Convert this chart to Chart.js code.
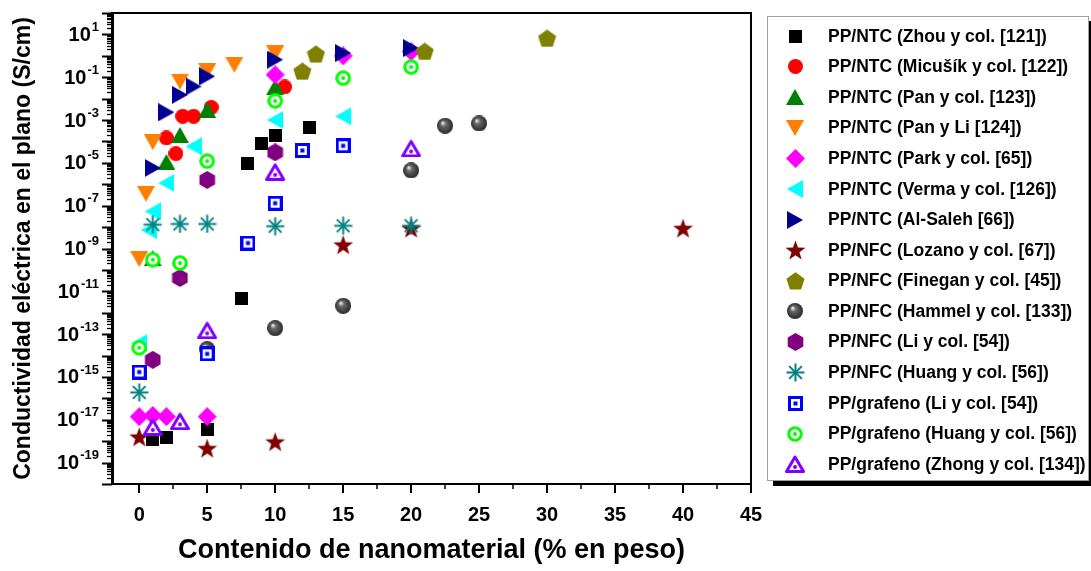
<!DOCTYPE html>
<html>
<head>
<meta charset="utf-8">
<script src="https://cdn.jsdelivr.net/npm/chart.js@4.4.1/dist/chart.umd.min.js"></script>
<style>
    body { margin: 0; background: #fff; }
    #wrap { position: relative; width: 1091px; height: 571px; }
    #leyenda {
        position: absolute; left: 767px; top: 16px; width: 322px; height: 465px;
        box-sizing: border-box; border: 1px solid #a0a0a0; background: #fff;
        box-shadow: 6px 5px 0 #000; padding-top: 4px;
    }
    .item { height: 30.57px; display: flex; align-items: center;
        font: bold 17.5px "Liberation Sans", Arial, sans-serif; color: #000; white-space: nowrap; }
    .item .mk { width: 54px; display: flex; justify-content: center; align-items: center; }
    .item span { margin-left: 6px; }
</style>
</head>
<body>
<div id="wrap">
    <canvas id="grafico" width="1091" height="571"></canvas>
    <div id="leyenda"></div>
</div>
<script>
const etiquetas = [
    'PP/NTC (Zhou y col. [121])',
    'PP/NTC (Micušík y col. [122])',
    'PP/NTC (Pan y col. [123])',
    'PP/NTC (Pan y Li [124])',
    'PP/NTC (Park y col. [65])',
    'PP/NTC (Verma y col. [126])',
    'PP/NTC (Al-Saleh [66])',
    'PP/NFC (Lozano y col. [67])',
    'PP/NFC (Finegan y col. [45])',
    'PP/NFC (Hammel y col. [133])',
    'PP/NFC (Li y col. [54])',
    'PP/NFC (Huang y col. [56])',
    'PP/grafeno (Li y col. [54])',
    'PP/grafeno (Huang y col. [56])',
    'PP/grafeno (Zhong y col. [134])'
];

const zhouX = [1, 2, 5, 7.5, 8, 9, 10, 12.5];
const zhouY = [1.15e-18, 1.55e-18, 3.5e-18, 4.5e-12, 9.8e-6, 7.8e-5, 1.9e-4, 4.3e-4];
const micusikX = [2, 2.7, 3.2, 4, 5.3, 10.7];
const micusikY = [1.45e-4, 2.7e-5, 1.5e-3, 1.5e-3, 3.9e-3, 3.5e-2];
const panX = [1, 2, 3, 5, 10];
const panY = [3.5e-10, 1.1e-5, 2.0e-4, 3.0e-3, 3.5e-2];
const panLiX = [0, 0.5, 1, 3, 5, 7, 10];
const panLiY = [3.2e-10, 3.6e-7, 9.3e-5, 6.3e-2, 0.19, 0.38, 1.3];
const parkX = [0, 1, 2, 5, 10, 15, 20];
const parkY = [1.4e-17, 1.6e-17, 1.4e-17, 1.4e-17, 0.13, 1.0, 1.6];
const vermaX = [0, 0.7, 1, 2, 4, 10, 15];
const vermaY = [3.8e-14, 7.4e-9, 5.4e-8, 1.15e-6, 5.9e-5, 1.0e-3, 1.5e-3];
const alSalehX = [1, 2, 3, 4, 5, 10, 15, 20];
const alSalehY = [5.8e-6, 2.3e-3, 1.5e-2, 3.7e-2, 0.11, 0.66, 1.35, 2.3];
const lozanoX = [0, 5, 10, 15, 20, 40];
const lozanoY = [1.6e-18, 4.7e-19, 9.5e-19, 1.5e-9, 8.9e-9, 8.9e-9];
const fineganX = [12, 13, 21, 30];
const fineganY = [0.19, 1.2, 1.6, 6.6];
const hammelX = [5, 10, 15, 20, 22.5, 25];
const hammelY = [2.0e-14, 1.9e-13, 2.1e-12, 4.4e-6, 5.4e-4, 6.9e-4];
const liNfcX = [1, 3, 5, 10];
const liNfcY = [6.3e-15, 4.2e-11, 1.6e-6, 3.1e-5];
const huangNfcX = [0, 1, 3, 5, 10, 15, 20];
const huangNfcY = [1.9e-16, 1.3e-8, 1.4e-8, 1.4e-8, 1.1e-8, 1.15e-8, 1.15e-8];
const liGrafX = [0, 5, 8, 10, 12, 15];
const liGrafY = [1.7e-15, 1.2e-14, 1.8e-9, 1.3e-7, 3.8e-5, 6.3e-5];
const huangGrafX = [0, 1, 3, 5, 10, 15, 20];
const huangGrafY = [2.3e-14, 3.0e-10, 2.1e-10, 1.2e-5, 7.9e-3, 9.1e-2, 0.3];
const zhongX = [1, 3, 5, 10, 20];
const zhongY = [4.6e-18, 8.5e-18, 1.5e-13, 3.8e-6, 4.7e-5];

const xTicks = [0, 5, 10, 15, 20, 25, 30, 35, 40, 45];
const yLabelExps = [1, -1, -3, -5, -7, -9, -11, -13, -15, -17, -19];
const yMinExp = -20;
const yMaxExp = 2;

const FONT = '"Liberation Sans", Arial, sans-serif';

// marcadores dibujados en canvas
function lienzo(w, h, dibujar) {
    const c = document.createElement('canvas');
    c.width = w; c.height = h;
    dibujar(c.getContext('2d'), w, h);
    return c;
}

function poligono(ctx, pts) {
    ctx.beginPath();
    ctx.moveTo(pts[0][0], pts[0][1]);
    pts.slice(1).forEach(p => ctx.lineTo(p[0], p[1]));
    ctx.closePath();
}

function regular(cx, cy, r, n, rot) {
    const pts = [];
    for (let i = 0; i < n; i++) {
        const a = rot + i * 2 * Math.PI / n;
        pts.push([cx + r * Math.cos(a), cy + r * Math.sin(a)]);
    }
    return pts;
}

const marcadores = [
    lienzo(13, 13, (c) => { c.fillStyle = '#000'; c.fillRect(0, 0, 13, 13); }),
    lienzo(15, 15, (c) => { c.fillStyle = '#ff0000'; c.beginPath(); c.arc(7.5, 7.5, 7.5, 0, 2 * Math.PI); c.fill(); }),
    lienzo(18, 16, (c) => { c.fillStyle = '#008000'; poligono(c, [[9, 0], [18, 16], [0, 16]]); c.fill(); }),
    lienzo(18, 16, (c) => { c.fillStyle = '#ff8000'; poligono(c, [[0, 0], [18, 0], [9, 16]]); c.fill(); }),
    lienzo(19, 19, (c) => { c.fillStyle = '#ff00ff'; poligono(c, [[9.5, 0], [19, 9.5], [9.5, 19], [0, 9.5]]); c.fill(); }),
    lienzo(16, 18, (c) => { c.fillStyle = '#00ffff'; poligono(c, [[0, 9], [16, 0], [16, 18]]); c.fill(); }),
    lienzo(16, 18, (c) => { c.fillStyle = '#000090'; poligono(c, [[16, 9], [0, 0], [0, 18]]); c.fill(); }),
    lienzo(21, 20, (c) => {
        c.fillStyle = '#800000';
        const pts = [];
        for (let i = 0; i < 10; i++) {
            const r = i % 2 ? 4.2 : 10.5;
            const a = -Math.PI / 2 + i * Math.PI / 5;
            pts.push([10.5 + r * Math.cos(a), 11 + r * Math.sin(a)]);
        }
        poligono(c, pts); c.fill();
    }),
    lienzo(19, 18, (c) => { c.fillStyle = '#808000'; poligono(c, regular(9.5, 9.8, 9.5, 5, -Math.PI / 2)); c.fill(); }),
    lienzo(16, 16, (c) => {
        const g = c.createRadialGradient(5.5, 5, 0.5, 8, 8, 8);
        g.addColorStop(0, '#e8e8e8');
        g.addColorStop(0.3, '#6a6a6a');
        g.addColorStop(0.8, '#3a3a3a');
        g.addColorStop(1, '#2a2a2a');
        c.fillStyle = g; c.beginPath(); c.arc(8, 8, 8, 0, 2 * Math.PI); c.fill();
    }),
    lienzo(17, 18, (c) => { c.fillStyle = '#800080'; poligono(c, regular(8.5, 9, 9, 6, -Math.PI / 2)); c.fill(); }),
    lienzo(19, 19, (c) => {
        c.strokeStyle = '#008080'; c.lineWidth = 2;
        for (let i = 0; i < 4; i++) {
            const a = i * Math.PI / 4;
            c.beginPath();
            c.moveTo(9.5 - 9 * Math.cos(a), 9.5 - 9 * Math.sin(a));
            c.lineTo(9.5 + 9 * Math.cos(a), 9.5 + 9 * Math.sin(a));
            c.stroke();
        }
    }),
    lienzo(15, 15, (c) => {
        c.fillStyle = '#fff'; c.fillRect(0, 0, 15, 15);
        c.strokeStyle = '#0000ff'; c.lineWidth = 3; c.strokeRect(1.5, 1.5, 12, 12);
        c.fillStyle = '#0000ff'; c.fillRect(5.5, 5.5, 4, 4);
    }),
    lienzo(16, 16, (c) => {
        c.fillStyle = '#fff'; c.beginPath(); c.arc(8, 8, 7, 0, 2 * Math.PI); c.fill();
        c.strokeStyle = '#00ff00'; c.lineWidth = 3; c.beginPath(); c.arc(8, 8, 6.3, 0, 2 * Math.PI); c.stroke();
        c.fillStyle = '#00ff00'; c.beginPath(); c.arc(8, 8, 2, 0, 2 * Math.PI); c.fill();
    }),
    lienzo(20, 18, (c) => {
        poligono(c, [[10, 2], [18.5, 16.5], [1.5, 16.5]]);
        c.fillStyle = '#fff'; c.fill();
        c.strokeStyle = '#8000ff'; c.lineWidth = 3; c.lineJoin = 'round'; c.stroke();
        c.fillStyle = '#8000ff'; c.beginPath(); c.arc(10, 12, 2, 0, 2 * Math.PI); c.fill();
    })
];

const serieX = [zhouX, micusikX, panX, panLiX, parkX, vermaX, alSalehX, lozanoX, fineganX,
    hammelX, liNfcX, huangNfcX, liGrafX, huangGrafX, zhongX];
const serieY = [zhouY, micusikY, panY, panLiY, parkY, vermaY, alSalehY, lozanoY, fineganY,
    hammelY, liNfcY, huangNfcY, liGrafY, huangGrafY, zhongY];

const datasets = etiquetas.map((nombre, i) => ({
    label: nombre,
    data: serieX[i].map((x, k) => ({ x, y: serieY[i][k] })),
    pointStyle: marcadores[i],
    pointRadius: 8,
    pointHoverRadius: 8,
    showLine: false,
    order: etiquetas.length - i
}));

function linea(ctx, x1, y1, x2, y2, w) {
    ctx.lineWidth = w;
    ctx.beginPath();
    ctx.moveTo(x1, y1);
    ctx.lineTo(x2, y2);
    ctx.stroke();
}

// marco, marcas de los ejes y etiquetas 10^n
const decoracionEjes = {
    id: 'decoracionEjes',
    afterDraw(chart) {
        const { ctx, chartArea: a, scales: { x, y } } = chart;
        ctx.save();
        ctx.strokeStyle = '#000';
        ctx.fillStyle = '#000';

        linea(ctx, a.left, a.top, a.right + 1, a.top, 2);
        linea(ctx, a.right, a.top, a.right, a.bottom, 2);

        xTicks.forEach((v, i) => {
            const px = Math.round(x.getPixelForValue(v));
            linea(ctx, px, a.bottom, px, a.bottom + 9, 2);
            if (i < xTicks.length - 1) {
                const pm = Math.round(x.getPixelForValue(v + 2.5));
                linea(ctx, pm, a.bottom, pm, a.bottom + 5, 1.5);
            }
        });

        for (let e = yMinExp; e <= yMaxExp; e++) {
            const py = Math.round(y.getPixelForValue(Math.pow(10, e))) + 0.5;
            linea(ctx, a.left - 10, py, a.left, py, 2);
            if (e < yMaxExp) {
                for (let m = 2; m <= 9; m++) {
                    const pm = Math.round(y.getPixelForValue(m * Math.pow(10, e))) + 0.5;
                    linea(ctx, a.left - 5, pm, a.left, pm, 1.3);
                }
            }
        }

        ctx.textBaseline = 'middle';
        ctx.textAlign = 'left';
        yLabelExps.forEach(e => {
            const py = y.getPixelForValue(Math.pow(10, e));
            const exp = String(e);
            ctx.font = `bold 13px ${FONT}`;
            const wExp = ctx.measureText(exp).width;
            ctx.font = `bold 20px ${FONT}`;
            const wBase = ctx.measureText('10').width;
            const derecha = 99;
            ctx.fillText('10', derecha - wExp - wBase - 1, py + 1);
            ctx.font = `bold 13px ${FONT}`;
            ctx.fillText(exp, derecha - wExp, py - 7);
        });
        ctx.restore();
    }
};

const grafico = new Chart(document.getElementById('grafico'), {
    type: 'scatter',
    data: { datasets },
    options: {
        responsive: false,
        animation: false,
        layout: { padding: { top: 13, right: 340, bottom: 0, left: 0 } },
        plugins: { legend: { display: false }, tooltip: { enabled: false } },
        scales: {
            x: {
                type: 'linear',
                min: -2,
                max: 45,
                afterFit: s => { s.height = 87; },
                afterBuildTicks: s => { s.ticks = xTicks.map(v => ({ value: v })); },
                grid: { display: false },
                border: { display: true, color: '#000', width: 2 },
                ticks: { padding: 11, color: '#000', font: { family: FONT, size: 20, weight: 'bold' }, maxRotation: 0 },
                title: {
                    display: true,
                    text: 'Contenido de nanomaterial (% en peso)',
                    color: '#000',
                    font: { family: FONT, size: 27, weight: 'bold' },
                    padding: { top: 0, bottom: 4 }
                }
            },
            y: {
                type: 'logarithmic',
                min: Math.pow(10, yMinExp),
                max: Math.pow(10, yMaxExp),
                afterFit: s => { s.width = 112; },
                afterBuildTicks: s => {
                    s.ticks = yLabelExps.map(e => ({ value: Math.pow(10, e) }));
                },
                grid: { display: false },
                border: { display: true, color: '#000', width: 3 },
                ticks: { display: false },
                title: {
                    display: true,
                    text: 'Conductividad eléctrica en el plano (S/cm)',
                    color: '#000',
                    font: { family: FONT, size: 23, weight: 'bold' },
                    padding: { top: 10, bottom: 0 }
                }
            }
        }
    },
    plugins: [decoracionEjes]
});

// leyenda en HTML a partir de los datasets
const leyenda = document.getElementById('leyenda');
grafico.data.datasets.forEach(ds => {
    const fila = document.createElement('div');
    fila.className = 'item';
    const mk = document.createElement('div');
    mk.className = 'mk';
    mk.appendChild(ds.pointStyle);
    const txt = document.createElement('span');
    txt.textContent = ds.label;
    fila.appendChild(mk);
    fila.appendChild(txt);
    leyenda.appendChild(fila);
});
</script>
</body>
</html>
